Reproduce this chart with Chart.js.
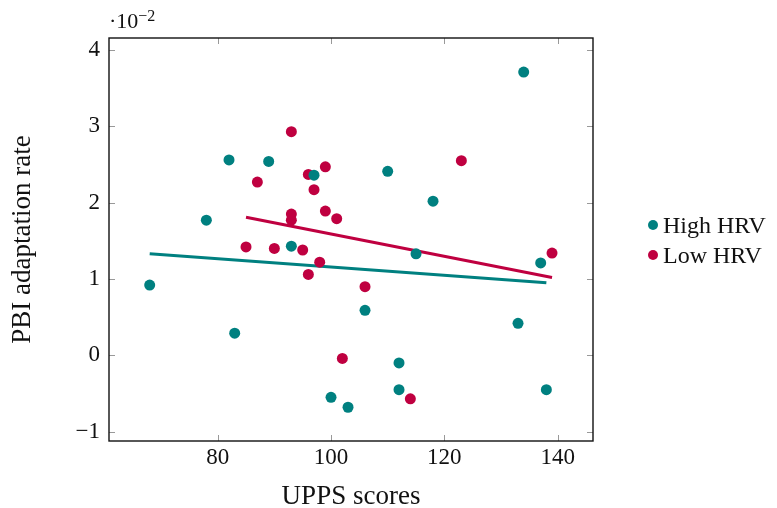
<!DOCTYPE html>
<html>
<head>
<meta charset="utf-8">
<script src="https://cdn.jsdelivr.net/npm/chart.js@4.4.1/dist/chart.umd.min.js"></script>
<style>
  body { margin: 0; background: #fff; }
  #wrap { position: relative; width: 777px; height: 508px; font-family: "Liberation Serif", serif; color: #111; }
  #exp { position: absolute; left: 109px; top: 10px; font-size: 22px; line-height: 22px; }
  #exp sup { font-size: 16px; vertical-align: 7px; line-height: 0; }
  .leg { position: absolute; left: 648px; font-size: 24px; line-height: 24px; white-space: nowrap; }
  .leg span.dot { display: inline-block; width: 10px; height: 10px; border-radius: 50%; margin-right: 5px; vertical-align: 3px; }
</style>
</head>
<body>
<div id="wrap">
  <canvas id="scatterChart" width="777" height="508"></canvas>
  <div id="exp">·10<sup>−2</sup></div>
  <div id="legend"></div>
</div>
<script>
// values are in units of 10^-2
const highX = [68, 78, 82, 83, 89, 93, 97, 100, 103, 106, 110, 112, 112, 115, 118, 133, 134, 137, 138];
const highY = [0.92, 1.77, 2.56, 0.29, 2.54, 1.43, 2.36, -0.55, -0.68, 0.59, 2.41, -0.10, -0.45, 1.33, 2.02, 0.42, 3.71, 1.21, -0.45];
const lowX = [85, 87, 90, 93, 93, 93, 95, 96, 96, 97, 98, 99, 99, 101, 102, 106, 114, 123, 139];
const lowY = [1.42, 2.27, 1.40, 2.93, 1.85, 1.77, 1.38, 2.37, 1.06, 2.17, 1.22, 2.47, 1.89, 1.79, -0.04, 0.90, -0.57, 2.55, 1.34];
const highFitX = [68, 138];
const highFitY = [1.33, 0.95];
const lowFitX = [85, 139];
const lowFitY = [1.81, 1.02];
const xTicks = [80, 100, 120, 140];
const yTicks = [-1, 0, 1, 2, 3, 4];
const seriesNames = ['High HRV', 'Low HRV'];

const teal = '#008080';
const purple = '#bf0040';
const pts = (xs, ys) => xs.map((x, i) => ({ x: x, y: ys[i] }));

const frame = {
    id: 'frame',
    afterDraw(chart) {
        const { ctx, chartArea: { left, right, top, bottom }, scales: { x, y } } = chart;
        ctx.save();
        ctx.strokeStyle = '#999';
        ctx.lineWidth = 1;
        xTicks.forEach(v => {
            const p = Math.round(x.getPixelForValue(v)) + 0.5;
            ctx.beginPath();
            ctx.moveTo(p, bottom); ctx.lineTo(p, bottom - 6);
            ctx.moveTo(p, top); ctx.lineTo(p, top + 6);
            ctx.stroke();
        });
        yTicks.forEach(v => {
            const p = Math.round(y.getPixelForValue(v)) + 0.5;
            ctx.beginPath();
            ctx.moveTo(left, p); ctx.lineTo(left + 6, p);
            ctx.moveTo(right, p); ctx.lineTo(right - 6, p);
            ctx.stroke();
        });
        ctx.strokeStyle = '#111';
        ctx.lineWidth = 1.4;
        ctx.strokeRect(left, top, right - left, bottom - top);
        ctx.restore();
    }
};

const tickFont = { family: 'Liberation Serif', size: 23 };
const titleFont = { family: 'Liberation Serif', size: 27, lineHeight: 1 };

const ctx = document.getElementById('scatterChart').getContext('2d');
const chart = new Chart(ctx, {
    type: 'scatter',
    data: {
        datasets: [
            { label: seriesNames[0], data: pts(highX, highY), backgroundColor: teal, borderColor: teal, pointRadius: 5.5, pointBorderWidth: 0 },
            { label: seriesNames[1], data: pts(lowX, lowY), backgroundColor: purple, borderColor: purple, pointRadius: 5.5, pointBorderWidth: 0 },
            { type: 'line', data: pts(highFitX, highFitY), borderColor: teal, borderWidth: 3, pointRadius: 0, fill: false },
            { type: 'line', data: pts(lowFitX, lowFitY), borderColor: purple, borderWidth: 3, pointRadius: 0, fill: false }
        ]
    },
    options: {
        responsive: false,
        animation: false,
        layout: { padding: { top: 38, right: 184, left: 0, bottom: 0 } },
        plugins: { legend: { display: false }, tooltip: { enabled: false } },
        scales: {
            x: {
                type: 'linear',
                min: 60.82,
                max: 146.23,
                afterBuildTicks: s => { s.ticks = xTicks.map(v => ({ value: v })); },
                afterFit: s => { s.height = 67; },
                grid: { display: false, drawTicks: false },
                border: { display: false },
                ticks: { color: '#111', padding: 3, font: tickFont },
                title: { display: true, text: 'UPPS scores', color: '#111', padding: { top: 0, bottom: -2 }, font: titleFont }
            },
            y: {
                type: 'linear',
                min: -1.122,
                max: 4.157,
                afterBuildTicks: s => { s.ticks = yTicks.map(v => ({ value: v })); },
                afterFit: s => { s.width = 109; },
                grid: { display: false, drawTicks: false },
                border: { display: false },
                ticks: { color: '#111', padding: 9, font: tickFont,
                    callback: v => (v < 0 ? '\u2212' + Math.abs(v) : String(v)) },
                title: { display: true, text: 'PBI adaptation rate', color: '#111', padding: { top: 9, bottom: 0 }, font: titleFont }
            }
        }
    },
    plugins: [frame]
});

// legend built from the datasets
const legend = document.getElementById('legend');
chart.data.datasets.slice(0, 2).forEach((ds, i) => {
    const d = document.createElement('div');
    d.className = 'leg';
    d.style.top = (213 + i * 30) + 'px';
    d.innerHTML = '<span class="dot" style="background:' + ds.backgroundColor + '"></span>' + ds.label;
    legend.appendChild(d);
});
</script>
</body>
</html>
